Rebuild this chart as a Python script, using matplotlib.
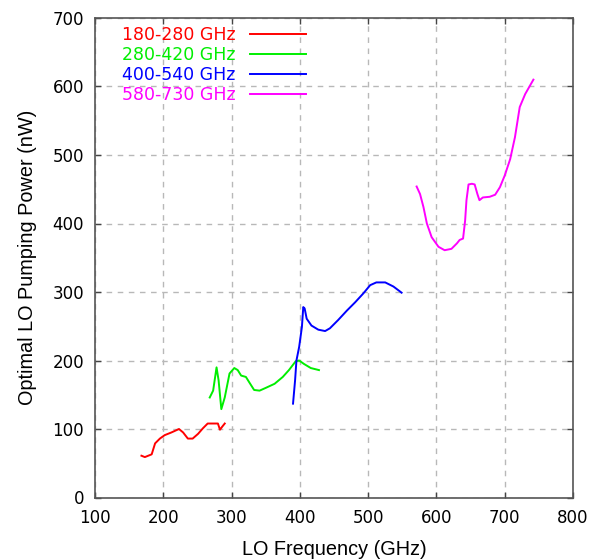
import matplotlib
matplotlib.use("Agg")
import matplotlib.pyplot as plt

plt.rcParams['font.family'] = ['DejaVu Sans']

labels = ["180-280 GHz", "280-420 GHz", "400-540 GHz", "580-730 GHz"]
colors = ["#ff0000", "#00ee00", "#0000ff", "#ff00ff"]

red_x = [168, 173, 183, 188, 195, 202, 212, 223, 229, 236, 243, 251, 258, 265, 275, 280, 283, 286, 290]
red_y = [61, 59, 63, 79, 86, 91, 95, 100, 95, 86, 86, 93, 101, 108, 108, 108, 99, 103, 108]

green_x = [268, 273, 278, 281, 285, 290, 297, 304, 309, 314, 321, 326, 333, 341, 350, 363, 375, 384, 394, 399, 406, 416, 428]
green_y = [146, 156, 190, 171, 129, 146, 181, 189, 186, 178, 176, 168, 157, 156, 160, 166, 176, 186, 199, 200, 195, 189, 186]

blue_x = [390, 393, 395, 399, 403, 405, 407, 410, 417, 427, 437, 444, 456, 469, 481, 493, 503, 512, 525, 537, 549]
blue_y = [137, 171, 200, 220, 249, 278, 276, 261, 251, 245, 243, 247, 259, 273, 285, 298, 310, 314, 314, 308, 299]

mag_x = [571, 576, 581, 586, 593, 603, 612, 622, 630, 634, 639, 642, 644, 647, 652, 656, 660, 663, 668, 678, 686, 693, 700, 708, 715, 722, 730, 734, 742]
mag_y = [454, 443, 424, 400, 380, 366, 361, 363, 371, 376, 378, 404, 434, 457, 458, 457, 443, 434, 438, 439, 442, 453, 470, 494, 526, 570, 589, 596, 610]

xticks = [100, 200, 300, 400, 500, 600, 700, 800]
yticks = [0, 100, 200, 300, 400, 500, 600, 700]

fig = plt.figure(figsize=(5.92, 5.59), dpi=100)
ax = fig.add_axes([95/592, (559-497.5)/559, (573-95)/592, (497.5-18)/559])

series = [(red_x, red_y), (green_x, green_y), (blue_x, blue_y), (mag_x, mag_y)]
for (xs, ys), lab, c in zip(series, labels, colors):
    ax.plot(xs, ys, color=c, lw=1.4, label=lab)

ax.set_xlim(100, 800)
ax.set_ylim(0, 700)
ax.set_xticks(xticks)
ax.set_yticks(yticks)
ax.tick_params(direction='in', length=4, width=1, top=True, right=True,
               labelsize=12, colors='#444444', labelcolor='black', pad=8)
for s in ax.spines.values():
    s.set_color('#555555')
    s.set_linewidth(1.2)
ax.grid(True, color='#b8b8b8', linestyle=(0, (4, 4)), linewidth=1)

ax.set_xlabel("LO Frequency (GHz)", fontsize=14.3, family='Liberation Sans', labelpad=9.5)
ax.set_ylabel("Optimal LO Pumping Power (nW)", fontsize=14.3, family='Liberation Sans', labelpad=11)

leg = ax.legend(loc='upper left', bbox_to_anchor=(0.056, 0.984), frameon=False,
                markerfirst=False, labelcolor='linecolor', fontsize=12.5,
                handlelength=3.2, handletextpad=0.85, labelspacing=0.13,
                borderaxespad=0.0, borderpad=0.0)

fig.savefig("out.png", dpi=100)
